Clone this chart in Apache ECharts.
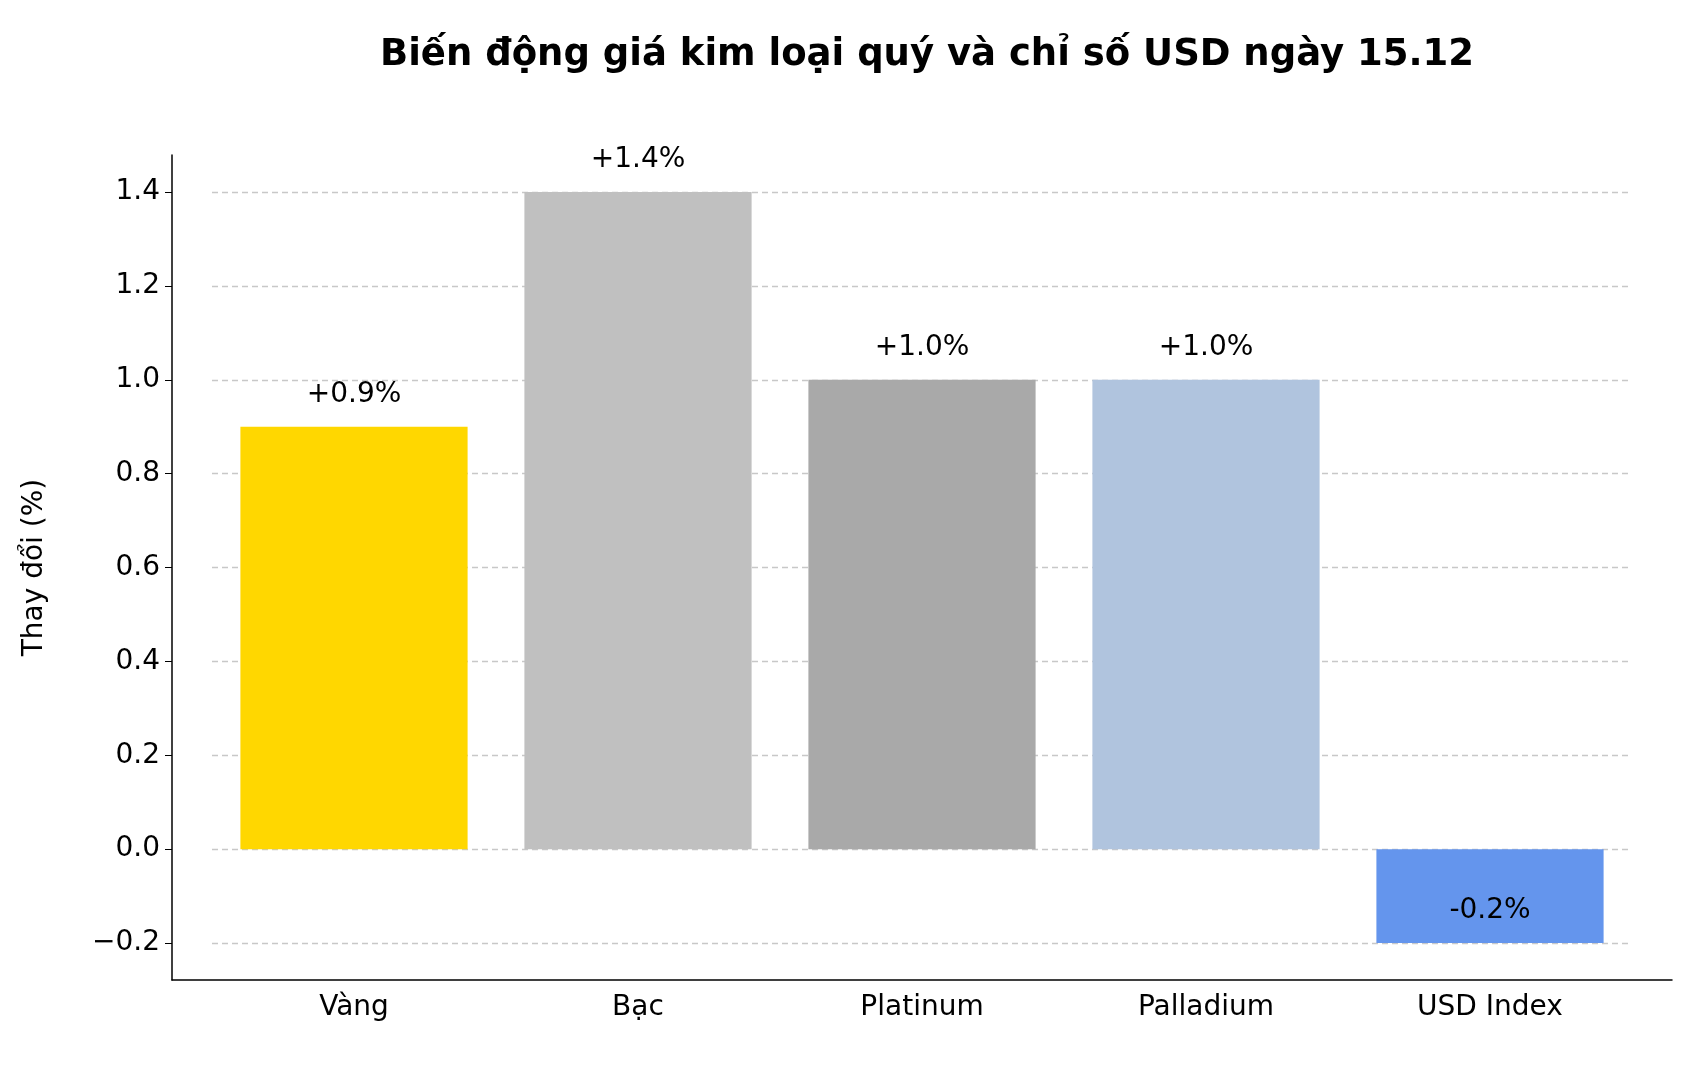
<!DOCTYPE html>
<html><head><meta charset="utf-8">
<script src="https://cdn.jsdelivr.net/npm/echarts@6/dist/echarts.min.js"></script>
<style>html,body{margin:0;background:#fff}#c{width:1704px;height:1065px}</style>
</head><body><div id="c"></div>
<script>
const categories = ['Vàng', 'Bạc', 'Platinum', 'Palladium', 'USD Index']
const values = [0.9, 1.4, 1.0, 1.0, -0.2]
const colors = ['#FFD700', '#C0C0C0', '#A9A9A9', '#B0C4DE', '#6495ED']
const font = 'DejaVu Sans'

const chart = echarts.init(document.getElementById('c'))
chart.setOption({
    animation: false,
    textStyle: {fontFamily: font},
    title: {
        text: 'Biến động giá kim loại quý và chỉ số USD ngày 15.12',
        left: 922, top: 32, textAlign: 'center',
        textStyle: {fontFamily: font, fontSize: 37, fontWeight: 'bold', color: '#000'}
    },
    grid: [
        {left: 172, right: 32, top: 155, bottom: 85},
        {left: 212, right: 72, top: 192, bottom: 122}
    ],
    xAxis: [
        {type: 'value', gridIndex: 0, min: 0, max: 1,
            axisLine: {show: true, lineStyle: {color: '#000', width: 1.5}},
            axisTick: {show: false}, axisLabel: {show: false}, splitLine: {show: false}},
        {type: 'category', gridIndex: 1, data: categories, offset: 37,
            axisLine: {show: false},
            axisTick: {alignWithLabel: true, length: 7, lineStyle: {color: '#000'}},
            axisLabel: {fontSize: 28, color: '#000', margin: 14, fontFamily: font}}
    ],
    yAxis: [
        {type: 'value', gridIndex: 0, min: 0, max: 1, axisLine: {show: true, lineStyle: {color: '#000', width: 1.5}},
            axisTick: {show: false}, axisLabel: {show: false}, splitLine: {show: false},
            name: 'Thay đổi (%)', nameLocation: 'middle', nameGap: 123, nameRotate: 90,
            nameTextStyle: {fontSize: 28, color: '#000', fontFamily: font}},
        {type: 'value', gridIndex: 1, min: -0.2, max: 1.4, interval: 0.2, offset: 40,
            axisLine: {show: false},
            axisTick: {show: true, length: 7, lineStyle: {color: '#000'}},
            axisLabel: {fontSize: 28, color: '#000', margin: 12, fontFamily: font,
                formatter: v => (v < 0 ? '\u2212' + Math.abs(v).toFixed(1) : v.toFixed(1))},
            splitLine: {lineStyle: {color: '#c8c8c8', type: [6, 4], width: 1.3}}}
    ],
    series: [{
        type: 'bar', xAxisIndex: 1, yAxisIndex: 1, barCategoryGap: '20%',
        data: values.map((v, i) => ({
            value: v,
            itemStyle: {color: colors[i]},
            label: v < 0 ? {position: 'insideBottom', distance: 18} : {position: 'top', distance: 18}
        })),
        label: {show: true, fontSize: 28, color: '#000', fontFamily: font,
            formatter: p => (p.value > 0 ? '+' : '') + p.value.toFixed(1) + '%'}
    }]
})
</script></body></html>
